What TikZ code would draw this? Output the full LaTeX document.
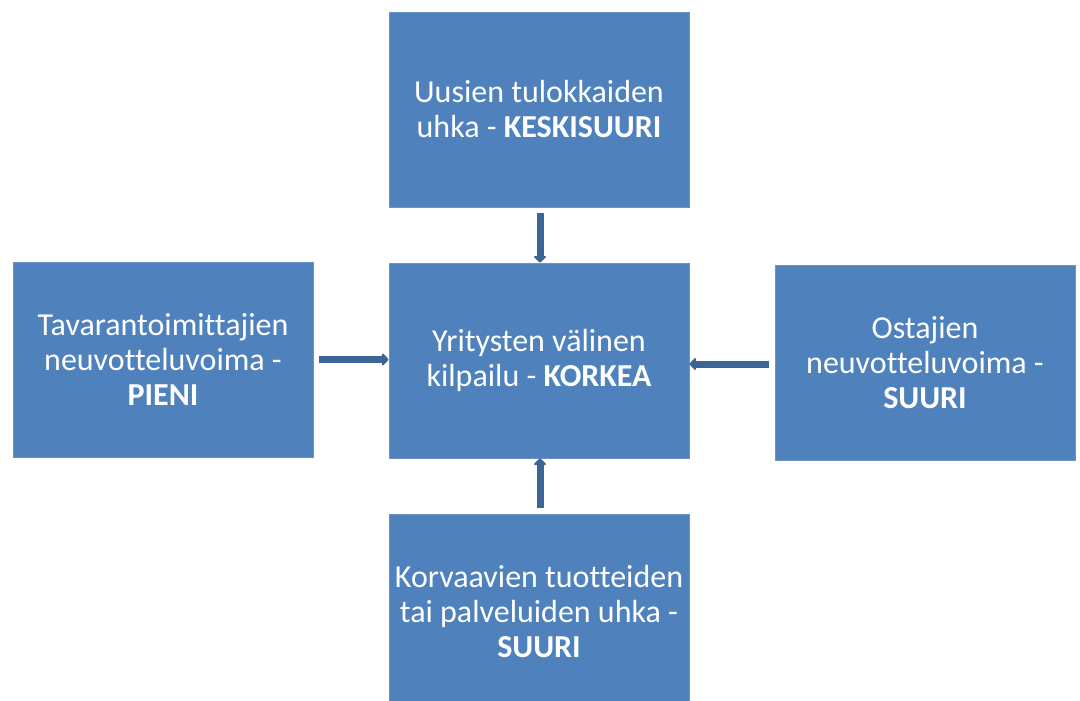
\documentclass[tikz,border=0pt]{standalone}
\usepackage{fontspec}
\setmainfont[Ligatures=NoCommon]{Carlito}
\usetikzlibrary{arrows.meta}
\definecolor{boxblue}{HTML}{4F81BD}
\definecolor{arrowblue}{HTML}{3C6494}
\tikzset{
  force/.style={fill=boxblue, draw=boxblue!85!white, line width=0.8pt,
    minimum width=300pt, minimum height=195pt, inner sep=0pt,
    text=white, align=center, font=\fontsize{32}{35}\selectfont},
  push/.style={draw=arrowblue, line width=7pt,
    -{Triangle[length=7pt,width=14pt,round]}}
}
\begin{document}
\begin{tikzpicture}[x=1pt,y=-1pt]
  \useasboundingbox (0,0) rectangle (1080,701);
  \clip (0,0) rectangle (1080,701);
  \node[force] (top)    at (539,109.5) {Uusien tulokkaiden\\uhka - \textbf{KESKISUURI}};
  \node[force] (left)   at (163,359.5) {Tavarantoimittajien\\neuvotteluvoima -\\\textbf{PIENI}};
  \node[force] (center) at (539,360.5) {Yritysten välinen\\kilpailu - \textbf{KORKEA}};
  \node[force] (right)  at (925,362.5) {Ostajien\\neuvotteluvoima -\\\textbf{SUURI}};
  \node[force] (bottom) at (539,611.5) {Korvaavien tuotteiden\\tai palveluiden uhka -\\\textbf{SUURI}};
  % forces acting on the rivalry in the middle
  \draw[push, shorten <=6pt] ([xshift=1pt]top.south) -- ([xshift=1pt]center.north);
  \draw[push, shorten <=6pt] (left.east) -- (center.west |- left.east);
  \draw[push, shorten <=6pt] ([yshift=-1.5pt]right.west) -- ([yshift=-1.5pt]center.east |- right.west);
  \draw[push, shorten <=6pt] ([xshift=1pt]bottom.north) -- ([xshift=1pt]center.south);
\end{tikzpicture}
\end{document}
